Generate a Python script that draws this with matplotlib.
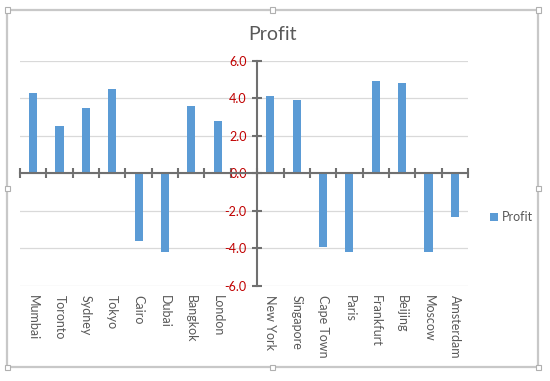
import matplotlib
matplotlib.use("Agg")
import matplotlib.pyplot as plt
import matplotlib.transforms as mtransforms
from matplotlib.patches import Rectangle

# blank category between London and New York holds the value axis
cities = ["Mumbai", "Toronto", "Sydney", "Tokyo", "Cairo", "Dubai", "Bangkok", "London", "",
          "New York", "Singapore", "Cape Town", "Paris", "Frankfurt", "Beijing", "Moscow", "Amsterdam"]
profit = [4.3, 2.5, 3.5, 4.5, -3.6, -4.2, 3.6, 2.8, None,
          4.1, 3.9, -3.9, -4.2, 4.9, 4.8, -4.2, -2.3]
yticks = [-6.0, -4.0, -2.0, 0.0, 2.0, 4.0, 6.0]

plt.rcParams['font.family'] = ['Lato', 'DejaVu Sans']

W, H = 550, 381
fig = plt.figure(figsize=(W / 100, H / 100), dpi=100)

# chart frame with selection handles
fl, ft, fr, fb = 7, 10, 538, 367
fig.patches.append(Rectangle((fl / W, 1 - fb / H), (fr - fl) / W, (fb - ft) / H,
                             transform=fig.transFigure, fill=False, ec="#C8C8C8", lw=1.6))
hs = 5
for hx in [fl, (fl + fr) / 2, fr]:
    for hy in [ft, (ft + fb) / 2, fb]:
        if hx == (fl + fr) / 2 and hy == (ft + fb) / 2:
            continue
        fig.patches.append(Rectangle(((hx - hs / 2) / W, 1 - (hy + hs / 2) / H), hs / W, hs / H,
                                     transform=fig.transFigure, fc="white", ec="#B0B0B0", lw=0.8,
                                     zorder=5))

ax = fig.add_axes([20 / W, 1 - 286 / H, 448 / W, 225.3 / H])
xs = [i for i, v in enumerate(profit) if v is not None]
vals = [v for v in profit if v is not None]
ax.bar(xs, vals, width=0.31, color="#5B9BD5", label="Profit", zorder=3)

ax.set_xlim(-0.5, len(cities) - 0.5)
ax.set_ylim(-6, 6)
ax.set_yticks(yticks)
ax.set_yticklabels(["%.1f" % v for v in yticks])
ax.yaxis.grid(True, color="#D9D9D9", lw=0.9, zorder=0)

for s in ["top", "right"]:
    ax.spines[s].set_visible(False)
ax.spines["left"].set_position(("data", cities.index("") + 0.5))
ax.spines["bottom"].set_position(("data", 0))
for s in ["left", "bottom"]:
    ax.spines[s].set_color("#707070")
    ax.spines[s].set_linewidth(1.5)
    ax.spines[s].set_zorder(4)

ax.set_xticks([i - 0.5 for i in range(len(cities) + 1)])
ax.set_xticklabels([])
ax.tick_params(axis="x", direction="inout", length=7, width=1.5, color="#707070")
ax.tick_params(axis="y", direction="inout", length=7, width=1.5, color="#707070", pad=4,
               labelcolor="#C00000", labelsize=9)
for lab in ax.get_yticklabels():
    lab.set_zorder(6)

trans = mtransforms.blended_transform_factory(ax.transData, ax.transAxes)
for i, c in enumerate(cities):
    ax.text(i, -0.04, c, transform=trans, rotation=270, ha="center", va="top",
            fontsize=9, color="#595959")

fig.text(272 / W, 1 - 34 / H, "Profit", ha="center", va="center", fontsize=14, color="#595959")
ax.legend(loc="center left", bbox_to_anchor=(484 / W, 1 - 217 / H), bbox_transform=fig.transFigure,
          frameon=False, fontsize=9, handlelength=0.6, handleheight=0.6, handletextpad=0.35,
          borderpad=0, labelcolor="#595959")

fig.savefig("out.png", dpi=100)
